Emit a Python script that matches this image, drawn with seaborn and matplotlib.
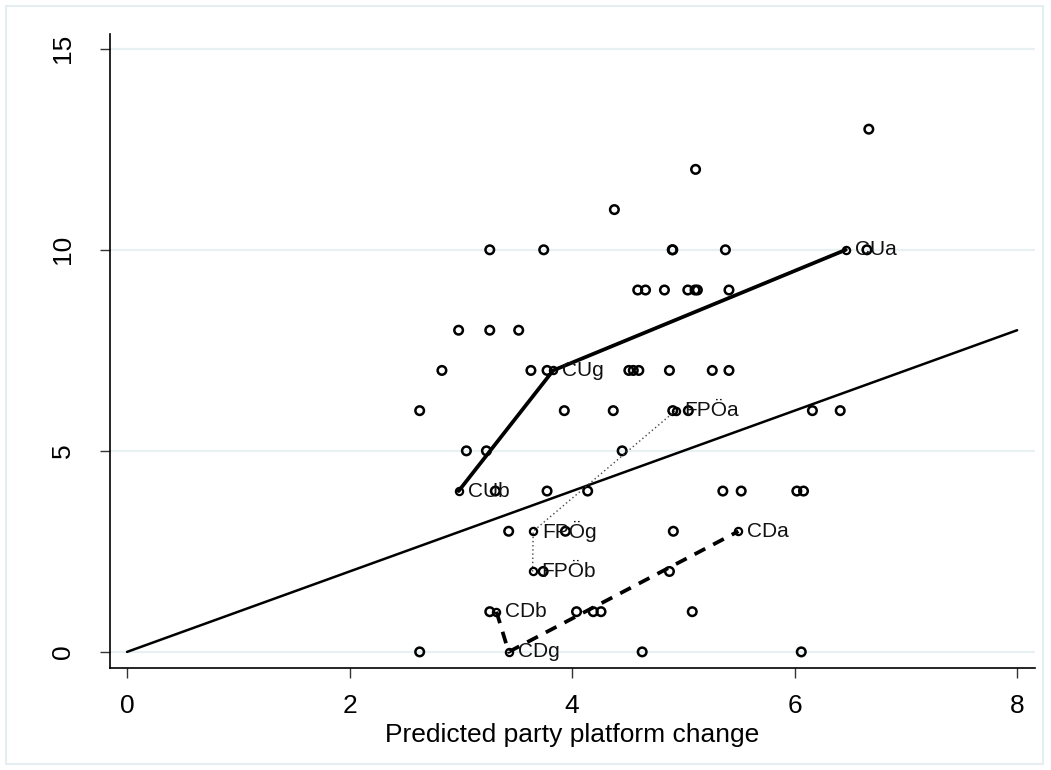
import numpy as np
import pandas as pd
import matplotlib.pyplot as plt
import seaborn as sns
from matplotlib.patches import Rectangle

# all other parties: predicted vs observed platform change
pred_x = [6.667, 5.11, 4.38,
          3.26, 3.745, 4.90, 4.905, 5.378, 6.65,
          4.59, 4.66, 4.83, 5.04, 5.105, 5.126, 5.41,
          2.98, 3.26, 3.52,
          2.83, 3.63, 3.775, 4.51, 4.55, 4.60, 4.875, 5.26, 5.41,
          2.63, 3.93, 4.37, 4.905, 5.045, 6.16, 6.41,
          3.05, 3.23, 4.45,
          3.31, 3.775, 4.14, 5.355, 5.52, 6.02, 6.08,
          3.43, 3.94, 4.91,
          3.74, 4.875,
          3.26, 4.04, 4.19, 4.26, 5.08,
          2.63, 4.63, 6.06]
obs_y = [13, 12, 11,
         10, 10, 10, 10, 10, 10,
         9, 9, 9, 9, 9, 9, 9,
         8, 8, 8,
         7, 7, 7, 7, 7, 7, 7, 7, 7,
         6, 6, 6, 6, 6, 6, 6,
         5, 5, 5,
         4, 4, 4, 4, 4, 4, 4,
         3, 3, 3,
         2, 2,
         1, 1, 1, 1, 1,
         0, 0, 0]

# labelled parties, connected b -> g -> a
cu_labels = ["CUb", "CUg", "CUa"]
cu_x = [2.98, 3.83, 6.46]
cu_y = [4, 7, 10]

fpo_labels = ["FPÖb", "FPÖg", "FPÖa"]
fpo_x = [3.645, 3.65, 4.93]
fpo_y = [2, 3, 6]

cd_labels = ["CDb", "CDg", "CDa"]
cd_x = [3.32, 3.43, 5.495]
cd_y = [1, 0, 3]

diag_x = [0, 8]
diag_y = [0, 8]

x_ticks = [0, 2, 4, 6, 8]
y_ticks = [0, 5, 10, 15]

sns.set_style("white")
plt.rcParams['font.family'] = ['Liberation Sans', 'DejaVu Sans']
plt.rcParams['text.color'] = 'black'
plt.rcParams['axes.labelcolor'] = 'black'

fig = plt.figure(figsize=(10.51, 7.70), dpi=100)
ax = fig.add_axes([0.1047, 0.1325, 0.88, 0.8235])

# light frame around the whole graph
fig.patches.append(Rectangle((0.006, 0.008), 0.986, 0.984, transform=fig.transFigure,
                             fill=False, edgecolor='#E6EDF0', linewidth=1.5))

for yt in y_ticks:
    ax.axhline(yt, color='#E8F0F2', linewidth=1.6, zorder=0)

df = pd.DataFrame({"pred": pred_x, "obs": obs_y})
sns.scatterplot(data=df, x="pred", y="obs", ax=ax, marker='o', s=38,
                facecolor='none', edgecolor='black', linewidth=1.8, zorder=3)

sns.lineplot(x=diag_x, y=diag_y, ax=ax, color='black', linewidth=1.8, sort=False, zorder=2)

groups = [
    (cu_x, cu_y, cu_labels, dict(color='black', linewidth=2.7, linestyle='-')),
    (fpo_x, fpo_y, fpo_labels, dict(color='#444444', linewidth=1.0, linestyle=(0, (1, 2)))),
    (cd_x, cd_y, cd_labels, dict(color='black', linewidth=2.7, linestyle=(0, (3.2, 2.4)))),
]
for gx, gy, glab, style in groups:
    sns.lineplot(x=gx, y=gy, ax=ax, sort=False, estimator=None, zorder=4, **style)
    ax.plot(gx, gy, linestyle='none', marker='o', markersize=5.2,
            markerfacecolor='none', markeredgecolor='black', markeredgewidth=1.6, zorder=5)
    for px, py, lab in zip(gx, gy, glab):
        ax.annotate(lab, (px, py), xytext=(6.5, 0), textcoords='offset points',
                    ha='left', va='center', fontsize=15, color='#111111', zorder=6)

ax.set_xlim(-0.153, 8.16)
ax.set_ylim(-0.4, 15.37)
ax.set_xticks(x_ticks)
ax.set_yticks(y_ticks)
ax.set_yticklabels([str(t) for t in y_ticks], rotation=90, va='center')
ax.tick_params(axis='both', direction='out', length=7, width=1, color='#333333',
               labelsize=19, labelcolor='black', bottom=True, left=True)
ax.tick_params(axis='x', pad=12)
ax.tick_params(axis='y', pad=18)
ax.set_xlabel("Predicted party platform change", fontsize=19, labelpad=3)
ax.set_ylabel("")

sns.despine(ax=ax)
for sp in ['left', 'bottom']:
    ax.spines[sp].set_color('black')
    ax.spines[sp].set_linewidth(1.2)

fig.savefig("out.png", dpi=100)
